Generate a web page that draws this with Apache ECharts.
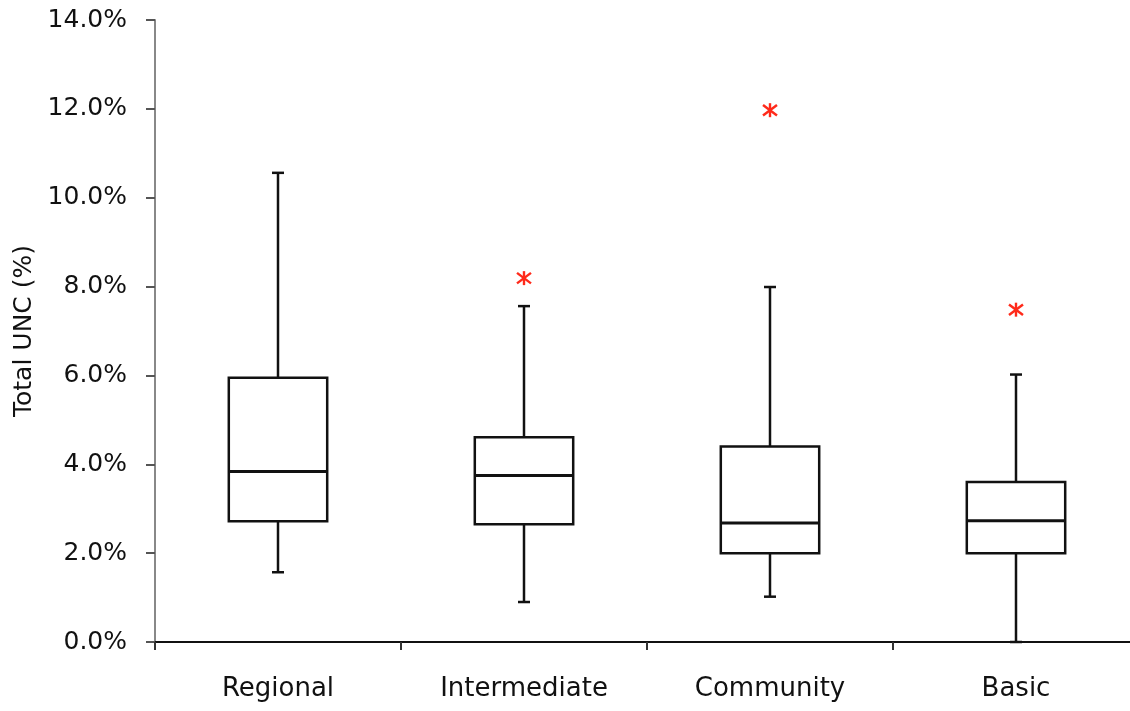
<!DOCTYPE html>
<html>
<head>
<meta charset="utf-8">
<script src="https://cdn.jsdelivr.net/npm/echarts@6/dist/echarts.min.js"></script>
<style>
html,body{margin:0;padding:0;background:#fff;}
#chart{width:1130px;height:711px;}
</style>
</head>
<body>
<div id="chart"></div>
<script>
// Categories
var categories = ['Regional', 'Intermediate', 'Community', 'Basic'];
// Box statistics (percent): min, Q1, median, Q3, max
var whiskerMin = [1.57, 0.90, 1.02, 0.00];
var quartile1  = [2.72, 2.65, 2.00, 2.00];
var medians    = [3.84, 3.75, 2.68, 2.73];
var quartile3  = [5.95, 4.61, 4.40, 3.60];
var whiskerMax = [10.56, 7.56, 7.99, 6.02];
// Outliers: category index, value (percent)
var outlierCat = [1, 2, 3];
var outlierVal = [8.19, 11.97, 7.48];
// Y ticks
var yMin = 0, yMax = 14, yStep = 2;

var boxData = categories.map(function (c, i) {
  return [i, whiskerMin[i], quartile1[i], medians[i], quartile3[i], whiskerMax[i]];
});
var outData = outlierCat.map(function (c, i) { return [c, outlierVal[i]]; });

var chart = echarts.init(document.getElementById('chart'), null, {renderer: 'canvas'});

function renderBox(params, api) {
  var ci = api.value(0);
  var band = api.size([1, 0])[0];
  var bw = band * 0.4;
  var capW = 12;
  var pMin = api.coord([ci, api.value(1)]);
  var pQ1 = api.coord([ci, api.value(2)]);
  var pMed = api.coord([ci, api.value(3)]);
  var pQ3 = api.coord([ci, api.value(4)]);
  var pMax = api.coord([ci, api.value(5)]);
  var x = pMed[0];
  var ls = {stroke: '#111', lineWidth: 2.5, fill: null};
  return {
    type: 'group',
    children: [
      {type: 'line', shape: {x1: x, y1: pQ3[1], x2: x, y2: pMax[1]}, style: ls},
      {type: 'line', shape: {x1: x, y1: pQ1[1], x2: x, y2: pMin[1]}, style: ls},
      {type: 'line', shape: {x1: x - capW / 2, y1: pMax[1], x2: x + capW / 2, y2: pMax[1]}, style: ls},
      {type: 'line', shape: {x1: x - capW / 2, y1: pMin[1], x2: x + capW / 2, y2: pMin[1]}, style: ls},
      {type: 'rect', shape: {x: x - bw / 2, y: pQ3[1], width: bw, height: pQ1[1] - pQ3[1]},
        style: {stroke: '#111', lineWidth: 2.5, fill: '#fff'}},
      {type: 'line', shape: {x1: x - bw / 2, y1: pMed[1], x2: x + bw / 2, y2: pMed[1]},
        style: {stroke: '#111', lineWidth: 3}}
    ]
  };
}

function renderOutlier(params, api) {
  var p = api.coord([api.value(0), api.value(1)]);
  var r = 7;
  var st = {stroke: '#ff2a1a', lineWidth: 2.4};
  return {
    type: 'group',
    children: [
      {type: 'line', shape: {x1: p[0] - r, y1: p[1] - r * 0.75, x2: p[0] + r, y2: p[1] + r * 0.75}, style: st},
      {type: 'line', shape: {x1: p[0] - r, y1: p[1] + r * 0.75, x2: p[0] + r, y2: p[1] - r * 0.75}, style: st},
      {type: 'line', shape: {x1: p[0], y1: p[1] - r, x2: p[0], y2: p[1] + r}, style: st}
    ]
  };
}

chart.setOption({
  animation: false,
  backgroundColor: '#fff',
  grid: {left: 155, top: 20, width: 984, height: 622, containLabel: false, outerBoundsMode: 'none'},
  xAxis: {
    type: 'category',
    data: categories,
    boundaryGap: true,
    axisLine: {lineStyle: {color: '#111', width: 2}},
    axisTick: {show: true, interval: 0, length: 8, lineStyle: {color: '#333', width: 2}},
    axisLabel: {interval: 0, margin: 34, color: '#111', fontFamily: 'DejaVu Sans', fontSize: 26},
    splitLine: {show: false}
  },
  yAxis: {
    type: 'value',
    min: yMin, max: yMax, interval: yStep,
    name: 'Total UNC (%)',
    nameLocation: 'middle',
    nameGap: 117,
    nameRotate: 90,
    nameTextStyle: {color: '#111', fontFamily: 'DejaVu Sans', fontSize: 25},
    axisLine: {show: true, lineStyle: {color: '#888', width: 2}},
    axisTick: {show: true, length: 9, lineStyle: {color: '#555', width: 2}},
    axisLabel: {margin: 28, color: '#111', fontFamily: 'DejaVu Sans', fontSize: 25,
      formatter: function (v) { return v.toFixed(1) + '%'; }},
    splitLine: {show: false}
  },
  series: [
    {type: 'custom', renderItem: renderBox, data: boxData, encode: {x: 0, y: [1, 2, 3, 4, 5]}, z: 3},
    {type: 'custom', renderItem: renderOutlier, data: outData, encode: {x: 0, y: 1}, z: 4}
  ]
});
</script>
</body>
</html>
